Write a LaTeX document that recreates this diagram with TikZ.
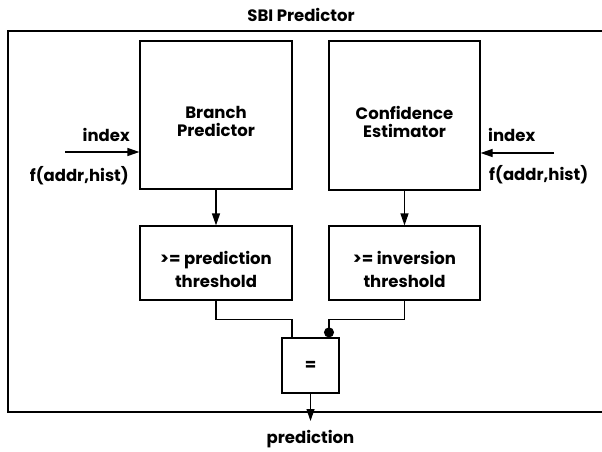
\documentclass[tikz,border=0pt]{standalone}
\usepackage{fontspec}
\setmainfont{Poppins}
\usetikzlibrary{arrows.meta}

\tikzset{
  unit/.style={draw, line width=1.2pt, inner sep=0pt, align=center},
  txt/.style={font=\fontsize{16.5}{23}\selectfont\bfseries, inner sep=0pt},
  sig/.style={line width=1.2pt, -{Triangle[length=12pt,width=8pt]}},
  wire/.style={line width=1.2pt}
}
\newcommand{\lowtext}{\rule{0pt}{26pt}}

\begin{document}
\begin{tikzpicture}[x=1pt,y=-1pt,txt]
\useasboundingbox (0,0) rectangle (602,451);

% outer frame
\node (title) at (301,15) {SBI Predictor};
\draw[wire] (8,31) rectangle (604,412);

% tables
\node[unit, minimum width=152pt, minimum height=148pt] (bp) at (216,115) {\lowtext Branch\\[-5pt]Predictor};
\node[unit, minimum width=151pt, minimum height=149pt] (ce) at (404.5,115.5) {\lowtext Confidence\\[-5pt]Estimator};

% thresholds
\node[unit, minimum width=152pt, minimum height=74pt] (tp) at (216,263) {\lowtext>= prediction\\threshold};
\node[unit, minimum width=151pt, minimum height=74pt] (ti) at (404.5,263) {\lowtext>= inversion\\threshold};

% compare
\node[unit, minimum width=57pt, minimum height=55pt] (eq) at (310.5,365.5) {=};

% index inputs
\coordinate (inl) at (65,152);
\coordinate (inr) at (554,153);
\draw[sig] (inl) -- (bp.west |- inl);
\draw[sig] (inr) -- (ce.east |- inr);
\node[anchor=east] (il) at (130,135) {index};
\node[anchor=east] (fl) at (129,176) {f(addr,hist)};
\node[anchor=west] (ir) at (488,135) {index};
\node[anchor=west] (fr) at (489,175) {f(addr,hist)};

\draw[sig] (bp) -- (tp);
\draw[sig] (ce) -- (ti);

% into the compare box, inverted input on the right
\draw[wire] (tp.south) -- ++(0,19) -| ([xshift=-18.5pt]eq.north);
\draw[wire, -{Circle[length=10pt]}] (ti.south) -- ++(0,19) -| ([xshift=18.5pt]eq.north);

% output
\coordinate (out) at (310.5,421);
\draw[sig] (eq) -- (out);
\node (pr) at (310.5,439) {prediction};
\end{tikzpicture}
\end{document}
